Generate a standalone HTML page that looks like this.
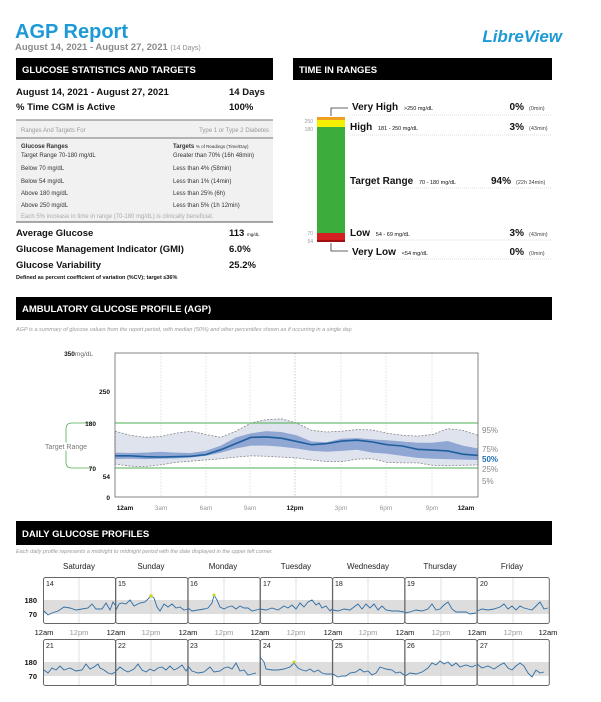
<!DOCTYPE html>
<html><head><meta charset="utf-8"><style>
html,body{margin:0;padding:0;background:#fff;}
svg{display:block;font-family:"Liberation Sans",Arial,sans-serif;}
</style></head><body>
<svg width="601" height="702" viewBox="0 0 601 702" xmlns="http://www.w3.org/2000/svg">
<text x="15" y="38" font-size="20" font-weight="bold" fill="#1d9ad6">AGP Report</text>
<text x="15" y="50" font-size="9.5" font-weight="bold" fill="#8a8a8a">August 14, 2021 - August 27, 2021 <tspan font-size="7" font-weight="normal">(14 Days)</tspan></text>
<text x="562" y="42" font-size="17" font-weight="bold" font-style="italic" fill="#1d9ad6" text-anchor="end">LibreView</text>

<rect x="16" y="58" width="257" height="22" fill="#000"/>
<text x="22" y="73" font-size="9.5" font-weight="bold" fill="#fff">GLUCOSE STATISTICS AND TARGETS</text>
<rect x="293" y="58" width="259" height="22" fill="#000"/>
<text x="299" y="73" font-size="9.5" font-weight="bold" fill="#fff">TIME IN RANGES</text>

<g font-size="9.5" font-weight="bold" fill="#111">
<text x="16" y="95">August 14, 2021 - August 27, 2021</text><text x="229" y="95">14 Days</text>
<text x="16" y="110">% Time CGM is Active</text><text x="229" y="110">100%</text>
</g>
<rect x="16" y="120" width="257" height="102" fill="#f1f1f1"/>
<line x1="16" y1="120" x2="273" y2="120" stroke="#777" stroke-width="1"/>
<line x1="16" y1="138" x2="273" y2="138" stroke="#777" stroke-width="1"/>
<line x1="16" y1="222" x2="273" y2="222" stroke="#555" stroke-width="1"/>
<g font-size="6" fill="#333">
<text x="21" y="132" fill="#999">Ranges And Targets For</text><text x="269" y="132" fill="#999" text-anchor="end">Type 1 or Type 2 Diabetes</text>
<text x="21" y="148" font-weight="bold">Glucose Ranges</text><text x="173" y="148"><tspan font-weight="bold">Targets</tspan> <tspan font-size="4.5">% of Readings (Time/Day)</tspan></text>
<text x="21" y="157">Target Range 70-180 mg/dL</text><text x="173" y="157">Greater than 70% (16h 48min)</text>
<text x="21" y="170">Below 70 mg/dL</text><text x="173" y="170">Less than 4% (58min)</text>
<text x="21" y="183">Below 54 mg/dL</text><text x="173" y="183">Less than 1% (14min)</text>
<text x="21" y="195">Above 180 mg/dL</text><text x="173" y="195">Less than 25% (6h)</text>
<text x="21" y="207">Above 250 mg/dL</text><text x="173" y="207">Less than 5% (1h 12min)</text>
<text x="21" y="218" fill="#aaa">Each 5% increase in time in range (70-180 mg/dL) is clinically beneficial.</text>
</g>
<g font-size="9.5" font-weight="bold" fill="#111">
<text x="16" y="236">Average Glucose</text><text x="229" y="236">113 <tspan font-size="4.5" font-weight="normal">mg/dL</tspan></text>
<text x="16" y="252">Glucose Management Indicator (GMI)</text><text x="229" y="252">6.0%</text>
<text x="16" y="268">Glucose Variability</text><text x="229" y="268">25.2%</text>
<text x="16" y="279" font-size="5.5">Defined as percent coefficient of variation (%CV); target ≤36%</text>
</g>

<rect x="317" y="117" width="28" height="3" fill="#f0a020"/>
<rect x="317" y="120" width="28" height="7" fill="#f5f000"/>
<rect x="317" y="127" width="28" height="106" fill="#3cac3c"/>
<rect x="317" y="233" width="28" height="7" fill="#d42020"/>
<rect x="317" y="240" width="28" height="2" fill="#a01010"/>
<g font-size="5" fill="#999" text-anchor="end"><text x="313" y="123">250</text><text x="313" y="131">180</text><text x="313" y="235">70</text><text x="313" y="243">54</text></g>
<path d="M331 116 V108 H348 M331 243 V251 H348" fill="none" stroke="#333" stroke-width="0.8"/>
<g stroke="#bbb" stroke-width="0.6" stroke-dasharray="1,1">
<line x1="352" y1="115" x2="552" y2="115"/><line x1="350" y1="135" x2="552" y2="135"/><line x1="350" y1="188" x2="552" y2="188"/><line x1="350" y1="240" x2="552" y2="240"/><line x1="352" y1="259" x2="552" y2="259"/>
</g>
<g fill="#111">
<text x="352" y="110" font-size="10" font-weight="bold">Very High <tspan font-size="5.5" font-weight="normal" dx="3">&gt;250 mg/dL</tspan></text>
<text x="350" y="130" font-size="10" font-weight="bold">High <tspan font-size="5.5" font-weight="normal" dx="3">181 - 250 mg/dL</tspan></text>
<text x="350" y="184" font-size="10" font-weight="bold">Target Range <tspan font-size="5.5" font-weight="normal" dx="3">70 - 180 mg/dL</tspan></text>
<text x="350" y="236" font-size="10" font-weight="bold">Low <tspan font-size="5.5" font-weight="normal" dx="3">54 - 69 mg/dL</tspan></text>
<text x="352" y="255" font-size="10" font-weight="bold">Very Low <tspan font-size="5.5" font-weight="normal" dx="3">&lt;54 mg/dL</tspan></text>
<g font-size="10" font-weight="bold" text-anchor="end"><text x="524" y="110">0%</text><text x="524" y="130">3%</text><text x="511" y="184">94%</text><text x="524" y="236">3%</text><text x="524" y="255">0%</text></g>
<g font-size="5.5" fill="#444"><text x="529" y="110">(0min)</text><text x="529" y="130">(43min)</text><text x="516" y="184">(22h 34min)</text><text x="529" y="236">(43min)</text><text x="529" y="255">(0min)</text></g>
</g>

<rect x="16" y="297" width="536" height="23" fill="#000"/>
<text x="22" y="312" font-size="9.5" font-weight="bold" fill="#fff">AMBULATORY GLUCOSE PROFILE (AGP)</text>
<text x="16" y="331" font-size="5.5" font-style="italic" fill="#999">AGP is a summary of glucose values from the report period, with median (50%) and other percentiles shown as if occurring in a single day.</text>

<g stroke="#ccc" stroke-width="0.6" stroke-dasharray="1.5,1.5">
<line x1="161" y1="353" x2="161" y2="497"/><line x1="206" y1="353" x2="206" y2="497"/><line x1="250" y1="353" x2="250" y2="497"/><line x1="295" y1="353" x2="295" y2="497" stroke="#aaa"/><line x1="341" y1="353" x2="341" y2="497"/><line x1="386" y1="353" x2="386" y2="497"/><line x1="432" y1="353" x2="432" y2="497"/>
</g>
<g transform="translate(115,497) scale(15.125,-0.4114)">
<path d="M0,160 L1,150 L2,145 L3,147 L4,155 L5,160 L6,152 L7,145 L8,160 L9,180 L10,188 L11,190 L12,180 L13,162 L14,158 L15,160 L16,164 L17,163 L18,155 L19,150 L20,148 L21,152 L22,166 L23,162 L24,150 L24,78 L23,77 L22,76 L21,77 L20,83 L19,83 L18,84 L17,93 L16,92 L15,86 L14,86 L13,90 L12,95 L11,97 L10,99 L9,100 L8,97 L7,93 L6,90 L5,87 L4,84 L3,78 L2,74 L1,75 L0,80 Z" fill="#dfe3ee" stroke="#888" stroke-width="0.8" stroke-dasharray="2,1.5" vector-effect="non-scaling-stroke"/>
<path d="M0,108 L1,107 L2,108 L3,110 L4,108 L5,107 L6,112 L7,125 L8,145 L9,155 L10,160 L11,158 L12,150 L13,135 L14,133 L15,142 L16,143 L17,140 L18,138 L19,135 L20,132 L21,132 L22,136 L23,125 L24,118 L24,90 L23,91 L22,92 L21,93 L20,95 L19,100 L18,105 L17,108 L16,115 L15,112 L14,110 L13,112 L12,118 L11,122 L10,125 L9,125 L8,118 L7,108 L6,100 L5,96 L4,94 L3,93 L2,92 L1,93 L0,92 Z" fill="#8fa7d2"/>
<path d="M0,100 L1,100 L2,98 L3,97 L4,98 L5,99 L6,103 L7,115 L8,130 L9,145 L10,146 L11,143 L12,135 L13,127 L14,130 L15,136 L16,138 L17,134 L18,127 L19,124 L20,116 L21,114 L22,112 L23,104 L24,101" fill="none" stroke="#1f5f9f" stroke-width="1.6" vector-effect="non-scaling-stroke"/>
</g>
<line x1="115" y1="423" x2="478" y2="423" stroke="#4caf50" stroke-width="1"/>
<line x1="115" y1="468" x2="478" y2="468" stroke="#4caf50" stroke-width="1"/>
<path d="M91 423 H72 Q66 423 66 429 V462 Q66 468 72 468 H91" fill="none" stroke="#4caf50" stroke-width="0.8"/>
<text x="66" y="449" font-size="7" fill="#777" text-anchor="middle" style="paint-order:stroke" stroke="#fff" stroke-width="3">Target Range</text>
<rect x="115" y="353" width="363" height="144" fill="none" stroke="#666" stroke-width="0.8"/>
<g font-size="6.5" font-weight="bold" fill="#111" text-anchor="end">
<text x="93" y="356">350<tspan font-weight="normal" fill="#666">mg/dL</tspan></text><text x="110" y="394">250</text><text x="96" y="426">180</text><text x="96" y="471">70</text><text x="110" y="479">54</text><text x="110" y="500">0</text>
</g>
<g font-size="6.5" fill="#999" text-anchor="middle">
<text x="125" y="510" fill="#111" font-weight="bold">12am</text><text x="161" y="510">3am</text><text x="206" y="510">6am</text><text x="250" y="510">9am</text><text x="295" y="510" fill="#111" font-weight="bold">12pm</text><text x="341" y="510">3pm</text><text x="386" y="510">6pm</text><text x="432" y="510">9pm</text><text x="466" y="510" fill="#111" font-weight="bold">12am</text>
</g>
<g font-size="8" fill="#888">
<text x="482" y="433">95%</text><text x="482" y="452">75%</text><text x="482" y="462" fill="#1f6fb0" font-weight="bold">50%</text><text x="482" y="472">25%</text><text x="482" y="484">5%</text>
</g>

<rect x="16" y="521" width="536" height="24" fill="#000"/>
<text x="22" y="537" font-size="9.5" font-weight="bold" fill="#fff">DAILY GLUCOSE PROFILES</text>
<text x="16" y="553" font-size="5.5" font-style="italic" fill="#999">Each daily profile represents a midnight to midnight period with the date displayed in the upper left corner.</text>
<g font-size="8" fill="#222" text-anchor="middle">
<text x="79" y="569">Saturday</text><text x="151" y="569">Sunday</text><text x="223" y="569">Monday</text><text x="296" y="569">Tuesday</text><text x="368" y="569">Wednesday</text><text x="440" y="569">Thursday</text><text x="512" y="569">Friday</text>
</g>
<rect x="43" y="600" width="506" height="14" fill="#ddd"/>
<rect x="43" y="662" width="506" height="14" fill="#ddd"/>
<g stroke="#ccc" stroke-width="0.6">
<line x1="79" y1="577" x2="79" y2="623"/><line x1="151" y1="577" x2="151" y2="623"/><line x1="224" y1="577" x2="224" y2="623"/><line x1="296" y1="577" x2="296" y2="623"/><line x1="368" y1="577" x2="368" y2="623"/><line x1="441" y1="577" x2="441" y2="623"/><line x1="513" y1="577" x2="513" y2="623"/>
<line x1="79" y1="639" x2="79" y2="685"/><line x1="151" y1="639" x2="151" y2="685"/><line x1="224" y1="639" x2="224" y2="685"/><line x1="296" y1="639" x2="296" y2="685"/><line x1="368" y1="639" x2="368" y2="685"/><line x1="441" y1="639" x2="441" y2="685"/><line x1="513" y1="639" x2="513" y2="685"/>
</g>
<g fill="none" stroke="#666" stroke-width="1">
<rect x="43.5" y="577.5" width="72" height="46" rx="2"/><rect x="115.8" y="577.5" width="72" height="46" rx="2"/><rect x="188.1" y="577.5" width="72" height="46" rx="2"/><rect x="260.4" y="577.5" width="72" height="46" rx="2"/><rect x="332.7" y="577.5" width="72" height="46" rx="2"/><rect x="405" y="577.5" width="72" height="46" rx="2"/><rect x="477.3" y="577.5" width="72" height="46" rx="2"/>
<rect x="43.5" y="639.5" width="72" height="46" rx="2"/><rect x="115.8" y="639.5" width="72" height="46" rx="2"/><rect x="188.1" y="639.5" width="72" height="46" rx="2"/><rect x="260.4" y="639.5" width="72" height="46" rx="2"/><rect x="332.7" y="639.5" width="72" height="46" rx="2"/><rect x="405" y="639.5" width="72" height="46" rx="2"/><rect x="477.3" y="639.5" width="72" height="46" rx="2"/>
</g>
<g font-size="7" fill="#222">
<text x="46" y="586">14</text><text x="118" y="586">15</text><text x="190" y="586">16</text><text x="263" y="586">17</text><text x="335" y="586">18</text><text x="407" y="586">19</text><text x="480" y="586">20</text>
<text x="46" y="648">21</text><text x="118" y="648">22</text><text x="190" y="648">23</text><text x="263" y="648">24</text><text x="335" y="648">25</text><text x="407" y="648">26</text><text x="480" y="648">27</text>
</g>
<g font-size="7.5" font-weight="bold" fill="#111" text-anchor="end">
<text x="37" y="603">180</text><text x="37" y="617">70</text><text x="37" y="665">180</text><text x="37" y="679">70</text>
</g>
<g font-size="7.5" fill="#999" text-anchor="middle">
<text x="44" y="635" fill="#111">12am</text><text x="79" y="635">12pm</text><text x="116" y="635" fill="#111">12am</text><text x="151" y="635">12pm</text><text x="188" y="635" fill="#111">12am</text><text x="224" y="635">12pm</text><text x="260" y="635" fill="#111">12am</text><text x="296" y="635">12pm</text><text x="333" y="635" fill="#111">12am</text><text x="368" y="635">12pm</text><text x="405" y="635" fill="#111">12am</text><text x="441" y="635">12pm</text><text x="477" y="635" fill="#111">12am</text><text x="513" y="635">12pm</text><text x="548" y="635" fill="#111">12am</text>
</g>
<g fill="none" stroke="#2f6ea5" stroke-width="0.9">
<polyline points="44,611 48,615 52,613 58,611 64,607 70,608 76,610 82,609 88,608 92,604 96,609 102,609 106,603 110,610 113,602 115,605"/>
<polyline points="116,610 119,604 122,603 126,604 130,600 134,606 140,603 145,602 148,599 151,596 154,598 157,607 160,611 164,604 168,607 172,604 176,608 180,607 184,610 188,609"/>
<polyline points="188,608 192,611 198,610 204,609 208,608 212,603 214,595 217,600 220,607 224,609 228,607 232,606 236,609 240,606 244,608 248,608 252,611 256,610 260,609"/>
<polyline points="260,609 266,610 272,608 278,610 284,606 288,608 292,605 296,609 300,603 304,607 308,602 312,600 316,605 319,603 322,608 326,606 330,611 332,609"/>
<polyline points="333,610 338,611 344,609 350,610 354,607 358,604 362,609 366,604 370,608 374,604 378,610 382,606 386,610 392,611 398,611 404,612"/>
<polyline points="405,613 410,612 416,610 422,611 428,609 432,604 436,610 440,609 444,605 448,602 452,609 456,612 462,612 466,612 470,614 476,613"/>
<polyline points="477,611 482,609 488,610 494,609 500,607 504,604 508,609 512,606 516,610 520,606 524,608 528,609 532,610 536,606 540,602 544,609 548,608"/>
<polyline points="44,670 48,673 52,668 56,670 60,666 64,670 70,668 76,671 82,670 86,664 90,669 94,667 98,664 100,668 104,670 108,673 112,674 115,672"/>
<polyline points="116,671 120,667 124,670 128,672 134,669 138,664 142,670 146,672 150,669 154,671 158,668 162,667 166,670 170,666 174,670 178,668 182,665 186,671 188,668"/>
<polyline points="188,666 192,671 198,673 204,672 210,667 214,672 220,671 224,668 228,667 232,669 236,663 240,671 244,670 248,675 252,674 256,673"/>
<polyline points="260,657 264,662 266,669 272,670 278,670 284,669 290,667 294,663 298,668 302,670 306,671 310,669 314,672 318,670 322,673 326,674 332,674"/>
<polyline points="333,674 338,677 342,676 346,676 350,673 356,672 360,669 364,672 368,671 372,675 376,673 380,667 386,669 392,670 396,673 400,672 404,675"/>
<polyline points="405,676 410,673 416,674 422,672 428,668 432,663 436,665 440,661 444,664 448,662 452,666 456,663 460,667 466,665 472,667 476,665"/>
<polyline points="477,664 482,668 488,666 494,669 500,665 504,663 508,668 512,670 516,666 520,663 524,666 528,673 532,677 536,670 540,673 544,672"/>
</g>
<circle cx="151" cy="596" r="1.8" fill="#c8d820"/>
<circle cx="214" cy="595" r="1.5" fill="#c8d820"/>
<circle cx="294" cy="662" r="1.5" fill="#c8d820"/>
</svg>
</body></html>
